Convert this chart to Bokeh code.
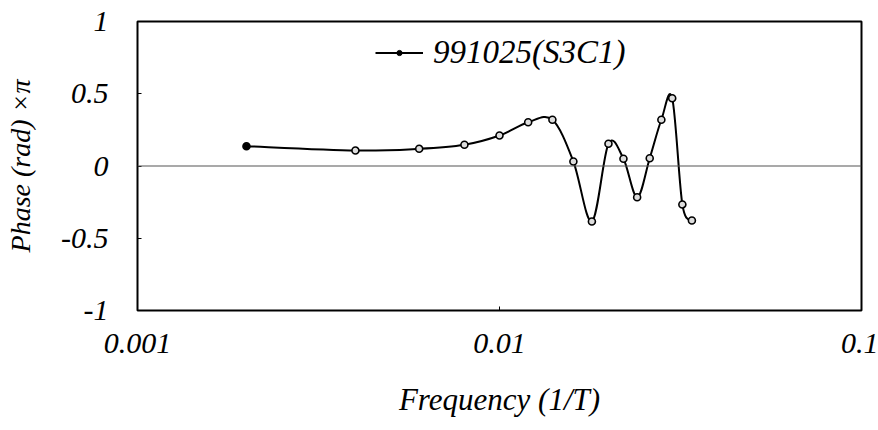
import numpy as np
from bokeh.plotting import figure
from bokeh.models import (FixedTicker, Span, Legend, LegendItem, Range1d)
from bokeh.embed import file_html
from bokeh.resources import INLINE

# ---- data ----
freq = [0.002, 0.004, 0.006, 0.008, 0.010, 0.012, 0.014, 0.016, 0.018,
        0.020, 0.022, 0.024, 0.026, 0.028, 0.030, 0.032, 0.034]
phase = [0.137, 0.107, 0.119, 0.147, 0.211, 0.303, 0.320, 0.031, -0.384,
         0.154, 0.050, -0.216, 0.054, 0.320, 0.469, -0.266, -0.377]
series_name = "991025(S3C1)"
x_ticks = [0.001, 0.01, 0.1]
x_tick_labels = ["0.001", "0.01", "0.1"]
y_ticks = [-1, -0.5, 0, 0.5, 1]
y_tick_labels = ["-1", "-0.5", "0", "0.5", "1"]

FONT = "Liberation Serif"

p = figure(width=878, height=430, x_axis_type="log",
           x_range=Range1d(0.001, 0.1), y_range=Range1d(-1, 1),
           output_backend="svg", toolbar_location=None,
           min_border_left=137, min_border_right=17,
           min_border_top=21, min_border_bottom=120,
           frame_width=724, frame_height=289)
p.grid.visible = False
p.outline_line_color = "black"
p.outline_line_width = 2
p.background_fill_color = "white"
p.border_fill_color = "white"

# zero line
p.add_layout(Span(location=0, dimension="width", line_color="#555555", line_width=1.2))

# smooth curve (Catmull-Rom style Bezier, computed in log-x space)
lx = np.log10(np.array(freq))
yy = np.array(phase)
n = len(lx)
px = np.concatenate([[lx[0]], lx, [lx[-1]]])
py = np.concatenate([[yy[0]], yy, [yy[-1]]])
x0, y0, x1, y1, cx0, cy0, cx1, cy1 = [], [], [], [], [], [], [], []
for i in range(n - 1):
    a, b, c, d = i, i + 1, i + 2, i + 3
    x0.append(10 ** px[b]); y0.append(py[b])
    x1.append(10 ** px[c]); y1.append(py[c])
    cx0.append(10 ** (px[b] + (px[c] - px[a]) / 6)); cy0.append(py[b] + (py[c] - py[a]) / 6)
    cx1.append(10 ** (px[c] - (px[d] - px[b]) / 6)); cy1.append(py[c] - (py[d] - py[b]) / 6)
curve = p.bezier(x0=x0, y0=y0, x1=x1, y1=y1, cx0=cx0, cy0=cy0, cx1=cx1, cy1=cy1,
                 line_color="black", line_width=2)
pts = p.scatter(freq, phase, marker="circle", size=7, fill_color="#dddddd",
                line_color="black", line_width=1.6)
# first point is drawn as a filled dot in the reference; also used for the legend glyph
first_dot = p.scatter(freq[:1], phase[:1], marker="circle", size=6,
                      fill_color="black", line_color="black")

legend = Legend(items=[LegendItem(label=series_name, renderers=[curve, first_dot])],
                location=(238, 239), orientation="vertical",
                border_line_alpha=0, background_fill_alpha=0,
                padding=0, margin=0, glyph_width=48, glyph_height=13,
                label_standoff=10, label_text_font=FONT,
                label_text_font_style="italic", label_text_font_size="33px",
                label_text_color="black", label_height=34)
p.add_layout(legend)

# axes
p.xaxis.ticker = FixedTicker(ticks=x_ticks)
p.xaxis.major_label_overrides = {t: l for t, l in zip(x_ticks, x_tick_labels)}
p.yaxis.ticker = FixedTicker(ticks=y_ticks)
p.yaxis.major_label_overrides = {t: l for t, l in zip(y_ticks, y_tick_labels)}
for ax in (p.xaxis, p.yaxis):
    ax.axis_line_color = None
    ax.major_tick_in = 4
    ax.major_tick_out = 0
    ax.minor_tick_line_color = None
    ax.major_tick_line_color = "black"
    ax.major_label_text_font = FONT
    ax.major_label_text_font_style = "italic"
    ax.major_label_text_font_size = "30px"
    ax.major_label_text_color = "black"
    ax.axis_label_text_font = FONT
    ax.axis_label_text_font_style = "italic"
    ax.axis_label_text_color = "black"
p.xaxis.axis_label_text_font_size = "31px"
p.yaxis.axis_label_text_font_size = "28px"
p.xaxis.major_label_standoff = 23
p.yaxis.major_label_standoff = 29
p.xaxis.axis_label = "Frequency (1/T)"
p.yaxis.axis_label = "Phase (rad) ×π"
p.xaxis.axis_label_standoff = 26
p.yaxis.axis_label_standoff = 22

open("out.html", "w").write(file_html(p, INLINE))
